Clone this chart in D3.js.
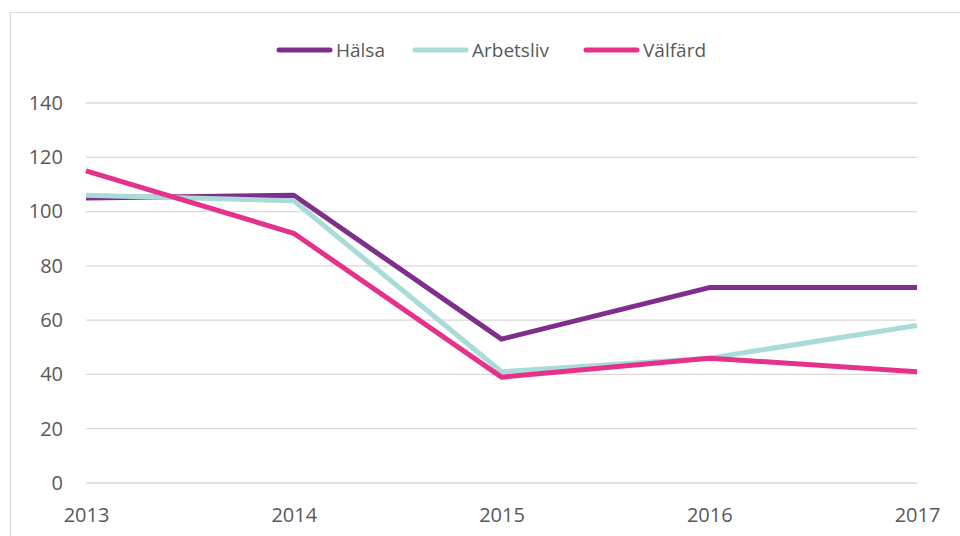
<!DOCTYPE html>
<html>
<head>
<meta charset="utf-8">
<script src="https://cdn.jsdelivr.net/npm/d3@7"></script>
<style>
  body { margin: 0; background: #fff; }
  text { font-family: "Open Sans", "Liberation Sans", sans-serif; fill: #595959; }
</style>
</head>
<body>
<div class="grafico"></div>
<script>
var years = [2013, 2014, 2015, 2016, 2017];
var halsa = [105, 106, 53, 72, 72];
var arbetsliv = [106, 104, 41, 46, 58];
var valfard = [115, 92, 39, 46, 41];
var yTicks = [0, 20, 40, 60, 80, 100, 120, 140];

var serier = [
  {namn: "Hälsa", varden: halsa, farg: "#7e2f8b"},
  {namn: "Arbetsliv", varden: arbetsliv, farg: "#a9dbd9"},
  {namn: "Välfärd", varden: valfard, farg: "#e5318a"}
];

var width = 960, height = 536;

var svg = d3.select(".grafico")
  .append("svg")
    .attr("width", width)
    .attr("height", height);

// ram runt diagrammet
svg.append("rect")
  .attr("x", 10.5).attr("y", 12.5)
  .attr("width", 960).attr("height", 540)
  .attr("fill", "none")
  .attr("stroke", "#d9d9d9");

// skalor
var x = d3.scalePoint()
  .domain(years)
  .range([86, 917]);

var y = d3.scaleLinear()
  .domain([0, 140])
  .range([483, 103]);

// rutnät
svg.append("g")
  .selectAll("line")
  .data(yTicks)
  .enter()
    .append("line")
    .attr("x1", 86).attr("x2", 917)
    .attr("y1", function(d){ return y(d); })
    .attr("y2", function(d){ return y(d); })
    .attr("stroke", "#d9d9d9")
    .attr("stroke-width", 1.3);

var yAxis = d3.axisLeft(y).tickValues(yTicks).tickSize(0).tickPadding(0);
svg.append("g")
  .attr("transform", "translate(63,0)")
  .call(yAxis)
  .call(function(g){ g.select(".domain").remove(); })
  .attr("font-size", 20)
  .attr("font-family", null);

var xAxis = d3.axisBottom(x).tickSize(0).tickPadding(0).tickFormat(d3.format("d"));
svg.append("g")
  .attr("transform", "translate(0,508)")
  .call(xAxis)
  .call(function(g){ g.select(".domain").remove(); })
  .attr("font-size", 20)
  .attr("font-family", null);

svg.selectAll(".tick text").attr("fill", "#595959");

// linjer
var linje = d3.line()
  .x(function(d, i){ return x(years[i]); })
  .y(function(d){ return y(d); });

svg.append("g")
  .selectAll("path")
  .data(serier)
  .enter()
    .append("path")
    .attr("d", function(d){ return linje(d.varden); })
    .attr("fill", "none")
    .attr("stroke", function(d){ return d.farg; })
    .attr("stroke-width", 5)
    .attr("stroke-linejoin", "round");

// förklaring
var legendX = [277, 413, 584];
var legend = svg.append("g")
  .selectAll("g")
  .data(serier)
  .enter()
    .append("g")
    .attr("transform", function(d, i){ return "translate(" + legendX[i] + ",50)"; });

legend.append("line")
  .attr("x1", 2).attr("x2", 53)
  .attr("stroke", function(d){ return d.farg; })
  .attr("stroke-width", 5)
  .attr("stroke-linecap", "round");

legend.append("text")
  .attr("x", 59)
  .attr("dy", "0.35em")
  .attr("font-size", 19)
  .text(function(d){ return d.namn; });
</script>
</body>
</html>
